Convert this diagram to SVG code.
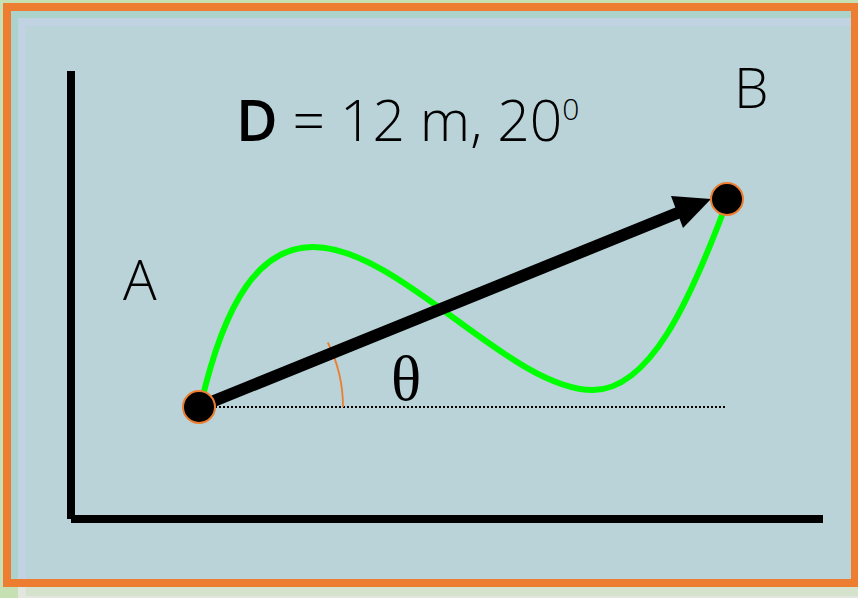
<svg xmlns="http://www.w3.org/2000/svg" width="858" height="598" viewBox="0 0 858 598">
  <defs>
    <style>
      .lbl { font-family: "Open Sans", "Liberation Sans", sans-serif; font-weight: 300; fill: #000; }
      .axis { stroke: #000; stroke-width: 8; fill: none; }
      .pt { fill: #000; stroke: #ed7d31; stroke-width: 2; }
    </style>
  </defs>
  <!-- background / frame -->
  <rect x="0" y="0" width="858" height="598" fill="#c6e0b4"/>
  <rect x="18" y="587" width="840" height="11" fill="#e2e6df"/>
  <rect x="26" y="587" width="832" height="9" fill="#d6e3cc"/>
  <rect x="11" y="11" width="847" height="576" fill="#acd3cb"/>
  <rect x="18" y="18" width="840" height="569" fill="#c1d3e2"/>
  <rect x="26" y="26" width="832" height="561" fill="#b9d3d8"/>
  <rect x="7" y="7" width="848" height="576" fill="none" stroke="#ed7d31" stroke-width="8"/>

  <!-- axes -->
  <g id="axes">
    <line class="axis" x1="71" y1="71" x2="71" y2="519"/>
    <line class="axis" x1="71" y1="519" x2="823" y2="519"/>
  </g>

  <g id="connectors">
    <line x1="215" y1="407" x2="726" y2="407" stroke="#000" stroke-width="2" stroke-dasharray="2 2"/>
    <path id="path-curve" d="M201,404 C225,300 260,247 313,247 C400,247 510,390 593,390 C650,390 690,300 724,210" fill="none" stroke="#00ff00" stroke-width="6"/>
    <path id="angle-arc" d="M343,407 A144,144 0 0 0 327.8,342.5" fill="none" stroke="#ed7d31" stroke-width="1.8"/>
    <line id="displacement" x1="199" y1="407" x2="680" y2="212" stroke="#000" stroke-width="12"/>
    <polygon points="711,199 671,196 683,228" fill="#000"/>
  </g>

  <g id="node-A">
    <circle class="pt" cx="199" cy="407" r="16"/>
    <text class="lbl" x="123" y="300" font-size="56">A</text>
  </g>
  <g id="node-B">
    <circle class="pt" cx="727" cy="199" r="16"/>
    <text class="lbl" x="734" y="108" font-size="55">B</text>
  </g>

  <g id="title">
    <text class="lbl" x="236" y="141" font-size="57"><tspan font-weight="600">D</tspan> = 12 m, 20<tspan font-size="30" dy="-21">0</tspan></text>
  </g>
  <g id="theta">
    <text x="391" y="400" font-family="Liberation Serif, serif" font-size="63">θ</text>
  </g>
</svg>
